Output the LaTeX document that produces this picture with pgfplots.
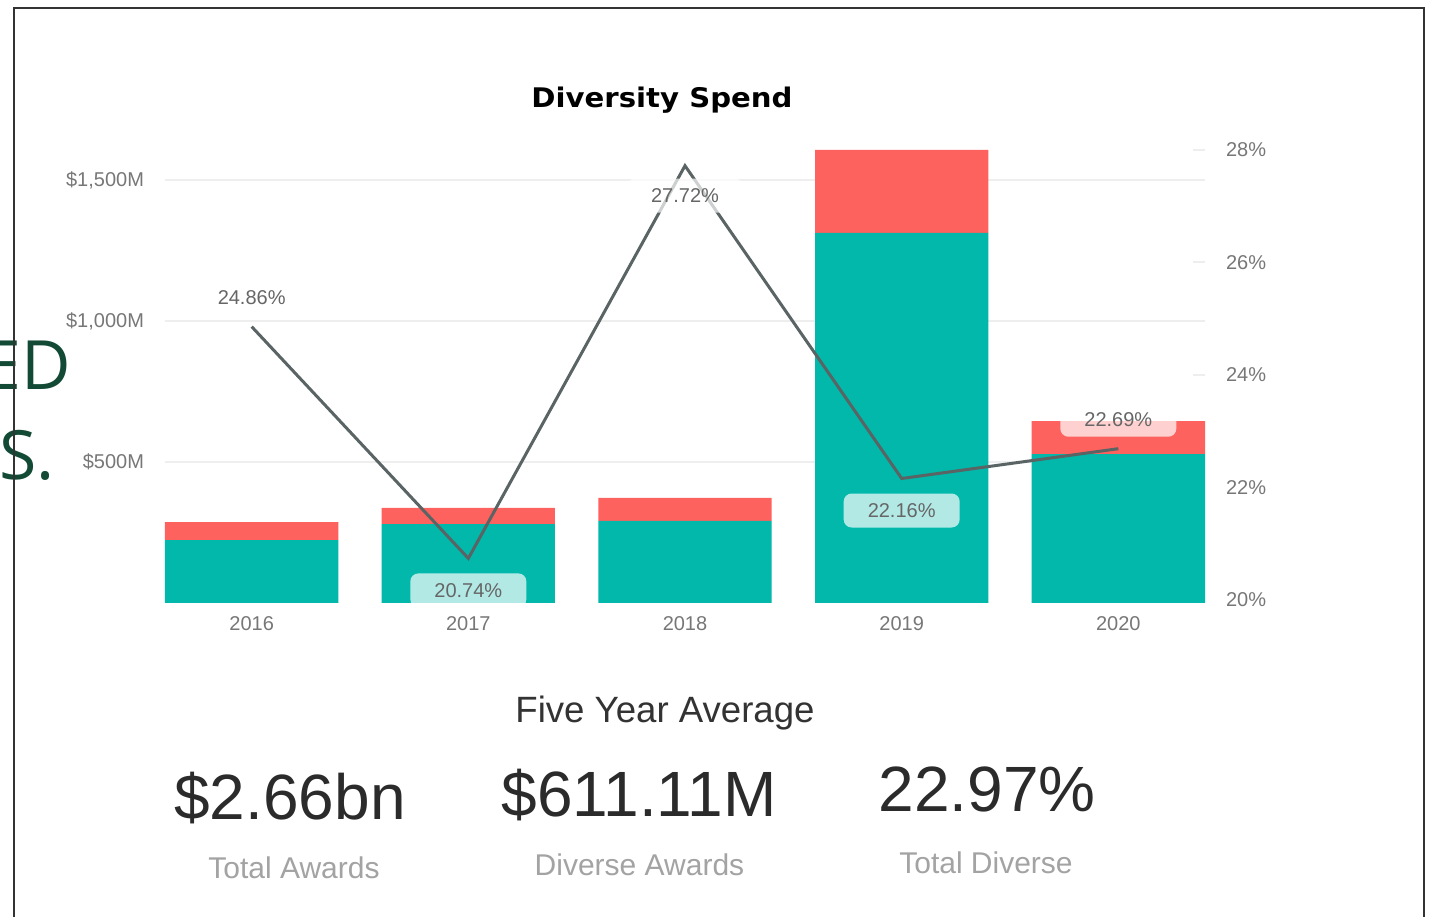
\documentclass[border=0pt]{standalone}
\usepackage{fontspec}
\setmainfont{Liberation Sans}
\newfontfamily\titlefont{DejaVu Sans}
\newfontfamily\greenfont{Open Sans}
\usepackage{pgfplots}
\pgfplotsset{compat=1.18}
\definecolor{teal1}{HTML}{01B8AA}
\definecolor{red1}{HTML}{FD625E}
\definecolor{lineC}{HTML}{5A6464}
\definecolor{tickC}{HTML}{777777}
\definecolor{labelC}{HTML}{666666}
\definecolor{gridC}{HTML}{EEEEEE}
\definecolor{frameC}{HTML}{333333}
\definecolor{greenC}{HTML}{134A36}
\definecolor{numC}{HTML}{2B2B2B}
\definecolor{headC}{HTML}{333333}
\definecolor{subC}{HTML}{A3A3A3}
\begin{document}
\begin{tikzpicture}
\path[use as bounding box, clip] (0,0) rectangle (716pt,458.5pt);
\fill[white] (0,0) rectangle (716pt,458.5pt);
\node[anchor=base east, inner sep=0pt, font=\greenfont\fontsize{34}{34}\selectfont, text=greenC] at (35.5pt,263.5pt) {ED};
\node[anchor=base east, inner sep=0pt, font=\greenfont\fontsize{34}{34}\selectfont, text=greenC] at (27.5pt,218.5pt) {S.};
\draw[frameC, line width=1pt] (7pt,0pt) -- (7pt,454.5pt) -- (712pt,454.5pt) -- (712pt,0pt);

\begin{axis}[
  at={(82.5pt,157pt)}, anchor=south west, scale only axis,
  width=520pt, height=226.5pt,
  xmin=-0.4, xmax=4.4, ymin=0, ymax=1606,
  ybar stacked, bar width=0.8,
  axis line style={draw=none}, major tick length=0pt,
  xtick={0,1,2,3,4}, xticklabels={2016,2017,2018,2019,2020},
  ytick={500,1000,1500}, yticklabels={{\$500M},{\$1,000M},{\$1,500M}},
  ymajorgrids, grid style={gridC, line width=1pt},
  tick label style={font=\fontsize{10}{12}\selectfont, text=tickC},
  yticklabel style={xshift=-7pt},
  xticklabel style={yshift=-3pt},
]
\addplot[fill=teal1, draw=none] coordinates {(0,223) (1,280) (2,291) (3,1312) (4,528)};
\addplot[fill=red1, draw=none] coordinates {(0,64) (1,57) (2,82) (3,294) (4,117)};
\end{axis}

\begin{axis}[
  at={(82.5pt,157pt)}, anchor=south west, scale only axis,
  width=520pt, height=226.5pt,
  xmin=-0.4, xmax=4.4, ymin=19.947, ymax=28,
  axis x line=none, axis y line*=right, axis line style={draw=none},
  tick align=inside,
  ytick={20,22,24,26,28}, yticklabels={20\%,22\%,24\%,26\%,28\%},
  major tick length=0pt,
  extra y ticks={24,26,28}, extra y tick labels={},
  extra y tick style={major tick length=6pt, tick style={gridC, line width=1pt}},
  tick label style={font=\fontsize{10}{12}\selectfont, text=tickC},
  yticklabel style={xshift=7pt},
]
\addplot[lineC, line width=1.5pt, mark=none,
  nodes near coords={\pgfmathprintnumber[assume math mode=true,fixed,fixed zerofill,precision=2]{\pgfplotspointmeta}\%},
  point meta=explicit,
  visualization depends on={value \thisrow{off}\as\labeloff},
  every node near coord/.append style={anchor=center, yshift=\labeloff pt, fill=white, fill opacity=0.7, text opacity=1, text=labelC, rounded corners=4pt, minimum width=58pt, minimum height=17pt, inner sep=0pt, font=\fontsize{10}{12}\selectfont}]
table[x=x, y=y, meta=y] {
x y off
0 24.86 14.5
1 20.74 -16
2 27.72 -15
3 22.16 -16
4 22.69 14.5
};
\end{axis}

\node[anchor=base, inner sep=0pt, xscale=1.08, font=\titlefont\bfseries\fontsize{13.5}{15}\selectfont, text=black] at (331pt,404.5pt) {Diversity Spend};

\node[anchor=base, inner sep=0pt, font=\fontsize{18.3}{20}\selectfont, text=headC] at (332.5pt,97pt) {Five Year Average};
\node[anchor=base, inner sep=0pt, font=\fontsize{32}{34}\selectfont, text=numC] at (145pt,48.5pt) {\$2.66bn};
\node[anchor=base, inner sep=0pt, font=\fontsize{32}{34}\selectfont, text=numC] at (319.5pt,50pt) {\$611.11M};
\node[anchor=base, inner sep=0pt, font=\fontsize{32}{34}\selectfont, text=numC] at (493.5pt,52.5pt) {22.97\%};
\node[anchor=base, inner sep=0pt, font=\fontsize{15}{17}\selectfont, text=subC] at (147pt,19.5pt) {Total Awards};
\node[anchor=base, inner sep=0pt, font=\fontsize{15}{17}\selectfont, text=subC] at (319.75pt,20.5pt) {Diverse Awards};
\node[anchor=base, inner sep=0pt, font=\fontsize{15}{17}\selectfont, text=subC] at (493pt,21.5pt) {Total Diverse};
\end{tikzpicture}
\end{document}
